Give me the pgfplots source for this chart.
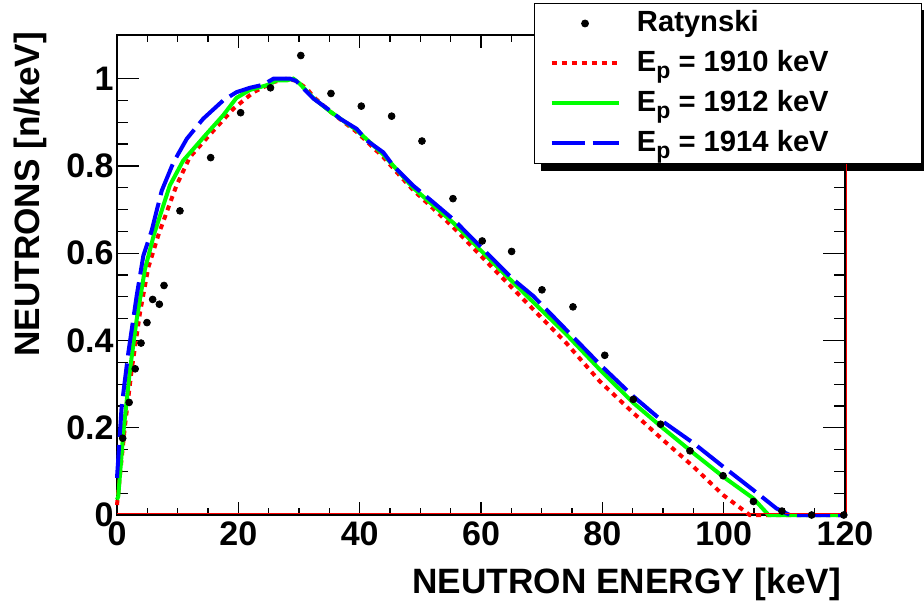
\documentclass[border=0pt]{standalone}
\usepackage{fontspec}
\setmainfont{Liberation Sans}
\usepackage{pgfplots}
\pgfplotsset{compat=1.18}
\usetikzlibrary{backgrounds}
\pgfkeys{/pgf/number format/assume math mode=true}
\newcommand\tickfont{\bfseries\fontsize{17}{17}\selectfont}
\newcommand\labfont{\bfseries\fontsize{17.6}{17.6}\selectfont}
\newcommand\legfont{\bfseries\fontsize{14.6}{14.6}\selectfont}
\newcommand\Ep[1]{\makebox[134.8pt][l]{E\raisebox{-3.5pt}{\fontsize{11.5}{11.5}\selectfont p} = #1 keV}}

\pgfplotsset{rootframe/.style={
  scale only axis, width=364pt, height=240pt,
  xmin=0, xmax=120, ymin=0, ymax=1.1,
  axis line style={line width=1pt},
  tick style={line width=0.6pt, black},
  tick align=inside,
  tick label style={font=\tickfont},
}}

\begin{document}
\begin{tikzpicture}
\useasboundingbox (-58.5pt,-46pt) rectangle (403.5pt,257.5pt);

% y ticks (longer than the x ticks, as in ROOT)
\begin{axis}[rootframe,
  xtick=\empty, ytick={0,0.2,0.4,0.6,0.8,1}, minor y tick num=3,
  major tick length=11pt, minor tick length=5.5pt,
  yticklabel style={inner xsep=1.5pt}]
\end{axis}

\begin{axis}[rootframe, clip=false,
  ytick=\empty, xtick={0,20,...,120}, minor x tick num=3,
  major tick length=6.5pt, minor tick length=3.3pt,
  xlabel={NEUTRON ENERGY [keV]}, ylabel={NEUTRONS [n/keV]},
  label style={font=\labfont},
  xlabel style={at={(axis description cs:1.004,-0.1625)}, anchor=base east},
  ylabel style={at={(axis description cs:-0.1058,1.0208)}, anchor=base east},
  legend image code/.code={\draw[mark repeat=2,mark phase=2,#1] plot coordinates {(0pt,0pt)(16.75pt,0pt)(33.5pt,0pt)};},
  legend cell align=left,
  legend style={name=leg, at={(axis description cs:1.1058,1.0667)}, anchor=north east,
    font=\legfont, draw=black, line width=0.5pt, fill=white,
    inner xsep=7.5pt, inner ysep=0pt, column sep=8.2pt,
    nodes={inner sep=0pt, text height=14pt, text depth=6pt}},
]
\addplot[only marks, mark=*, mark size=1.7pt, black] coordinates {
(0.94,0.176)(2.0,0.258)(3.0,0.335)(3.96,0.394)(4.94,0.441)(5.88,0.494)
(6.98,0.483)(7.75,0.526)(10.38,0.697)(15.44,0.819)(20.38,0.922)(25.3,0.979)
(30.3,1.053)(35.27,0.966)(40.27,0.937)(45.27,0.914)(50.27,0.857)(55.38,0.725)
(60.2,0.628)(65.05,0.604)(70.05,0.516)(75.16,0.477)(80.4,0.366)(85.1,0.265)
(89.6,0.208)(94.45,0.147)(99.9,0.090)(104.9,0.031)(109.6,0.009)(114.5,0)(119.8,0)};
\addlegendentry{\makebox[134.8pt][l]{Ratynski}}

\addplot[red, line width=2pt, dash pattern=on 2.5pt off 2.5pt] coordinates {
(0,0.023)(1.3,0.203)(2.42,0.333)(3.8,0.464)(5.16,0.567)(6.9,0.645)(9.8,0.755)
(12.0,0.82)(15.9,0.881)(19.2,0.931)(22.5,0.969)(25.8,0.992)(28,1.0)(29.5,0.995)
(31.3,0.977)(32.4,0.958)(35.1,0.925)(39.5,0.878)(43.9,0.82)(46.6,0.778)(48.8,0.745)
(55.4,0.66)(62,0.565)(67.5,0.487)(74,0.395)(79.6,0.306)(85.1,0.234)(90,0.172)
(95,0.111)(99.9,0.046)(104.3,0)(120,0)};
\addlegendentry{\Ep{1910}}

\addplot[green, line width=2pt] coordinates {
(0,0.035)(0.2,0.042)(1.04,0.188)(2.14,0.333)(3.24,0.448)(4.6,0.563)(6.1,0.643)
(8.7,0.755)(10.9,0.812)(14.8,0.874)(17.5,0.916)(19.7,0.956)(21.9,0.974)
(24.7,0.985)(26.3,0.996)(28,0.996)(29.06,1.0)(30,0.99)(32.4,0.955)(35.1,0.925)
(39.5,0.882)(43.9,0.826)(48.8,0.75)(55.4,0.67)(62,0.578)(68.6,0.488)(74,0.415)
(79.6,0.333)(85.1,0.257)(90,0.199)(95,0.142)(99.9,0.088)(104.9,0.038)(107.4,0)(120,0)};
\addlegendentry{\Ep{1912}}

\addplot[blue, line width=2pt, dash pattern=on 16.5pt off 4pt] coordinates {
(0,0.085)(0.77,0.249)(1.87,0.372)(3.24,0.502)(4.34,0.594)(5.7,0.651)(7.37,0.743)
(9.3,0.808)(11.5,0.862)(14.2,0.908)(17.5,0.95)(19.7,0.969)(21.9,0.979)(24.1,0.986)
(25.8,1.0)(28.5,1.0)(29.5,0.995)(32.4,0.954)(35.1,0.927)(36.8,0.908)(39.5,0.885)
(41.2,0.858)(43.9,0.831)(45.5,0.801)(48.8,0.755)(52.1,0.717)(55.4,0.678)(58.7,0.632)
(62,0.586)(65.3,0.54)(68.6,0.502)(74,0.425)(79.6,0.345)(85.1,0.272)(90,0.214)
(95,0.165)(99.9,0.111)(104.9,0.057)(108.7,0.015)(110.9,0)(120,0)};
\addlegendentry{\Ep{1914}}

\draw[red, line width=0.5pt] ([yshift=0.6pt]rel axis cs:0,0) -- ([yshift=0.6pt]rel axis cs:1,0);
\draw[red, line width=0.5pt] ([xshift=0.6pt]rel axis cs:1,0) -- ([xshift=0.6pt]rel axis cs:1,1);
\end{axis}

% ROOT-style legend shadow
\begin{scope}[on background layer]
\fill[black] ([shift={(3.5pt,-3.5pt)}]leg.south west) rectangle ([shift={(3.5pt,-3.5pt)}]leg.north east);
\end{scope}
\end{tikzpicture}
\end{document}
